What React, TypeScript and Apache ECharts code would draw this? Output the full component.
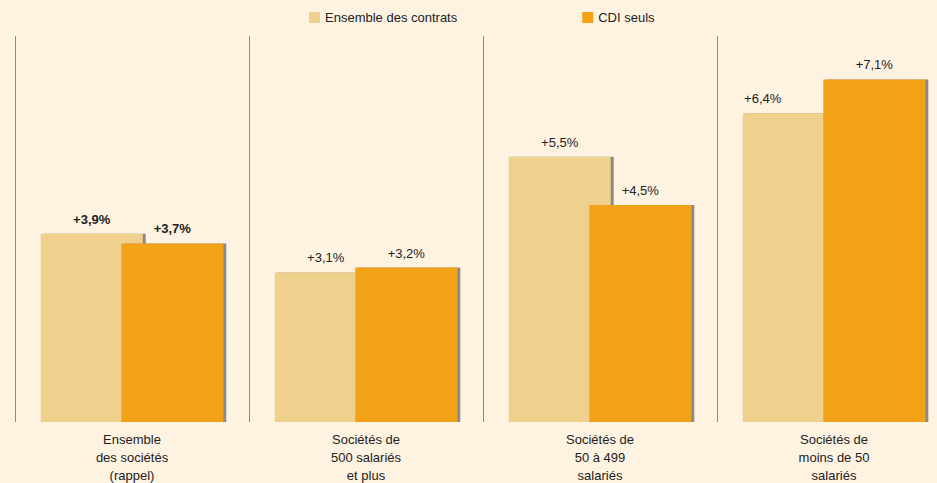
import React, { useEffect, useRef } from "react";
import * as echarts from "echarts";

const categories = [
  "Ensemble\ndes sociétés\n(rappel)",
  "Sociétés de\n500 salariés\net plus",
  "Sociétés de\n50 à 499\nsalariés",
  "Sociétés de\nmoins de 50\nsalariés",
];
const seriesNames = ["Ensemble des contrats", "CDI seuls"];
const ensembleValues = [3.9, 3.1, 5.5, 6.4];
const cdiValues = [3.7, 3.2, 4.5, 7.1];

const fmt = (v: number) => "+" + v.toFixed(1).replace(".", ",") + "%";

export default function App() {
  const ref = useRef<HTMLDivElement>(null);
  useEffect(() => {
    document.body.style.margin = "0";
    const chart = echarts.init(ref.current!, null, { renderer: "svg" });
    const font = "Liberation Sans, Arial, sans-serif";
    const mk = (vals: number[], seriesIdx: number) =>
      vals.map((v, i) => ({
        value: v,
        label: {
          fontWeight: i === 0 ? "bold" : "normal",
          offset: seriesIdx === 0 && i === 3 ? [-31, 0] : [0, 0],
        },
      }));
    chart.setOption({
      animation: false,
      backgroundColor: "#FEF2E1",
      textStyle: { fontFamily: font },
      legend: {
        left: 304,
        top: 6,
        itemWidth: 11,
        itemHeight: 11,
        itemGap: 125,
        icon: "rect",
        textStyle: { fontSize: 13, color: "#222", fontFamily: font },
        data: seriesNames,
      },
      grid: {
        left: 15,
        width: 936,
        top: 36,
        bottom: 61,
        containLabel: false,
        outerBoundsMode: "none",
      },
      xAxis: {
        type: "category",
        data: categories,
        axisLine: { show: false },
        axisTick: { show: false },
        axisLabel: {
          fontSize: 13,
          color: "#222",
          lineHeight: 18,
          margin: 8,
          fontFamily: font,
        },
        splitLine: { show: true, lineStyle: { color: "#8a8a8a", width: 1 } },
      },
      yAxis: {
        type: "value",
        min: 0,
        max: 8,
        show: false,
        splitLine: { show: false },
      },
      series: [
        {
          name: seriesNames[0],
          type: "bar",
          data: mk(ensembleValues, 0),
          barWidth: 102,
          barGap: "-21%",
          itemStyle: {
            color: "#EFD18D",
            shadowColor: "#8a8a8a",
            shadowOffsetX: 3,
            shadowOffsetY: 0,
            shadowBlur: 0,
          },
          label: {
            show: true,
            position: "top",
            distance: 8,
            fontSize: 13,
            color: "#222",
            fontFamily: font,
            formatter: (p: any) => fmt(p.value),
          },
        },
        {
          name: seriesNames[1],
          type: "bar",
          data: mk(cdiValues, 1),
          barWidth: 102,
          barGap: "-21%",
          itemStyle: {
            color: "#F1A216",
            shadowColor: "#8a8a8a",
            shadowOffsetX: 3,
            shadowOffsetY: 0,
            shadowBlur: 0,
          },
          label: {
            show: true,
            position: "top",
            distance: 8,
            fontSize: 13,
            color: "#222",
            fontFamily: font,
            formatter: (p: any) => fmt(p.value),
          },
        },
      ],
    });
    return () => chart.dispose();
  }, []);
  return <div ref={ref} style={{ width: 937, height: 483 }} />;
}
